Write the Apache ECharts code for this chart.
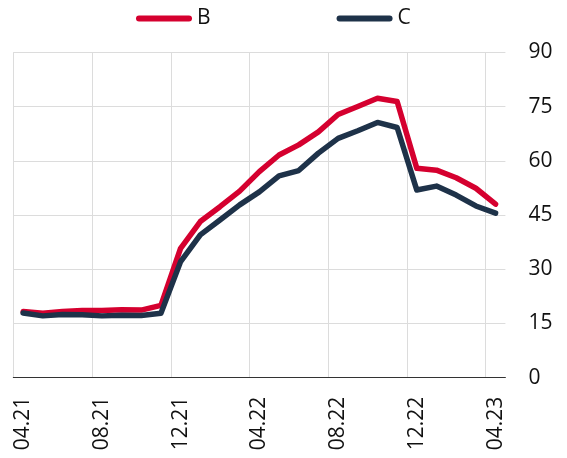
<!DOCTYPE html>
<html>
<head>
<meta charset="utf-8">
<script src="https://cdn.jsdelivr.net/npm/echarts@6/dist/echarts.min.js"></script>
<style>
html,body{margin:0;padding:0;background:#fff;}
#chart{width:567px;height:458px;}
</style>
</head>
<body>
<div id="chart"></div>
<script>
const categories = ['04.21','05.21','06.21','07.21','08.21','09.21','10.21','11.21','12.21','01.22','02.22','03.22','04.22','05.22','06.22','07.22','08.22','09.22','10.22','11.22','12.22','01.23','02.23','03.23','04.23'];
const seriesB = [18.3,17.8,18.3,18.6,18.6,18.8,18.7,20.0,35.8,43.2,47.3,51.6,57.0,61.6,64.4,68.0,72.8,75.0,77.3,76.4,57.9,57.4,55.3,52.4,48.0];
const seriesC = [17.9,17.1,17.5,17.4,17.1,17.3,17.2,17.8,32.1,39.5,43.6,47.8,51.4,55.8,57.3,62.1,66.2,68.3,70.6,69.2,51.9,53.0,50.5,47.5,45.5];
const yTicks = {min: 0, max: 90, interval: 15};

const FONT = '"Open Sans", "Noto Sans", sans-serif';
const RED = '#d5002f';
const NAVY = '#1e3249';
const pill = 'path://M3,0 L53,0 A3,3 0 0 1 53,6 L3,6 A3,3 0 0 1 3,0 Z';

const chart = echarts.init(document.getElementById('chart'), null, {renderer: 'canvas'});
chart.setOption({
  animation: false,
  backgroundColor: '#fff',
  textStyle: {fontFamily: FONT},
  legend: {
    left: 131,
    top: 3,
    itemWidth: 56,
    itemHeight: 6,
    itemGap: 126,
    textStyle: {fontFamily: FONT, fontSize: 21, color: '#111'},
    data: [
      {name: 'B', icon: pill, itemStyle: {color: RED}},
      {name: 'C', icon: pill, itemStyle: {color: NAVY}}
    ]
  },
  grid: {left: 13.3, right: 61.6, top: 52.3, bottom: 80.3, containLabel: false},
  xAxis: [
    {
      type: 'category',
      data: categories,
      boundaryGap: true,
      position: 'bottom',
      axisLine: {show: true, lineStyle: {color: '#333', width: 1}},
      axisTick: {show: false},
      splitLine: {show: false},
      axisLabel: {
        interval: 3,
        rotate: 90,
        margin: 19,
        fontSize: 21,
        fontFamily: FONT,
        color: '#111'
      }
    },
    {
      type: 'category',
      data: categories.concat(['']),
      boundaryGap: false,
      position: 'bottom',
      axisLine: {show: false},
      axisTick: {show: false},
      axisLabel: {show: false},
      splitLine: {show: true, interval: 3, lineStyle: {color: '#dcdcdc', width: 1}}
    }
  ],
  yAxis: {
    type: 'value',
    position: 'right',
    min: yTicks.min,
    max: yTicks.max,
    interval: yTicks.interval,
    axisLine: {show: false},
    axisTick: {show: false},
    axisLabel: {margin: 23, fontSize: 21, fontFamily: FONT, color: '#111'},
    splitLine: {show: true, lineStyle: {color: '#dcdcdc', width: 1}}
  },
  series: [
    {
      name: 'B', type: 'line', xAxisIndex: 0, data: seriesB,
      symbol: 'none', color: RED,
      lineStyle: {color: RED, width: 5.5, cap: 'round', join: 'round'}
    },
    {
      name: 'C', type: 'line', xAxisIndex: 0, data: seriesC,
      symbol: 'none', color: NAVY,
      lineStyle: {color: NAVY, width: 5.5, cap: 'round', join: 'round'}
    }
  ]
});
</script>
</body>
</html>
